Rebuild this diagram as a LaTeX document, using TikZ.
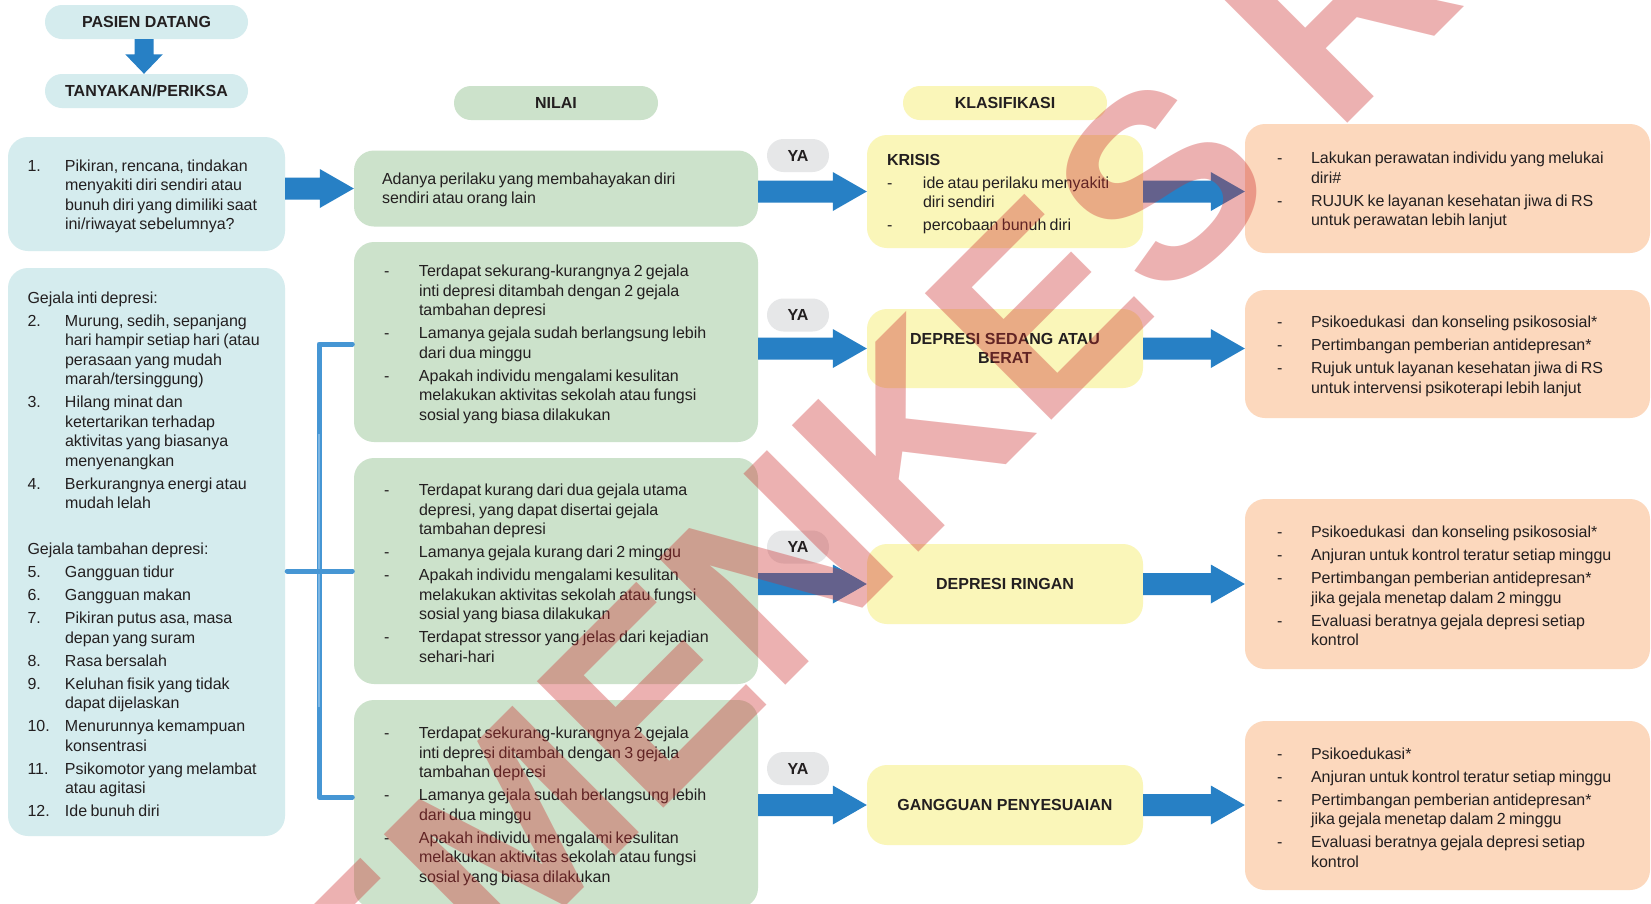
\documentclass[tikz,border=0pt]{standalone}
\usepackage{fontspec}
\setmainfont{Liberation Sans}
\usetikzlibrary{calc}
\definecolor{cyanc}{RGB}{213,236,238}
\definecolor{greenc}{RGB}{204,226,203}
\definecolor{yellowc}{RGB}{250,246,185}
\definecolor{peachc}{RGB}{252,216,189}
\definecolor{grayc}{RGB}{230,231,232}
\definecolor{bluec}{RGB}{39,128,197}
\definecolor{brc}{RGB}{70,150,212}
\definecolor{brl}{RGB}{125,183,228}
\definecolor{textc}{RGB}{35,31,32}
\definecolor{wmc}{RGB}{205,45,45}
\newlength\mw
\newcommand\bodyf{\fontsize{16pt}{19.5pt}\selectfont\setlength\parskip{3.5pt}}
\newcommand\itm[1]{\par\hangindent=\mw\hangafter=1\noindent\makebox[\mw][l]{#1}\ignorespaces}
\newcommand\hd[1]{\par\noindent#1}
\newcommand\harrow[2]{\fill[bluec] let \p1=(#1), \p2=(#2) in
  (\x1,\y2+11pt) -- (\x2-34pt,\y2+11pt) -- (\x2-34pt,\y2+19.5pt) -- (\x2,\y2)
  -- (\x2-34pt,\y2-19.5pt) -- (\x2-34pt,\y2-11pt) -- (\x1,\y2-11pt) -- cycle;}
\begin{document}
\begin{tikzpicture}[x=1pt,y=-1pt,
  box/.style={fill=#1, rounded corners=20pt, inner sep=0pt, draw=none},
  pill/.style={fill=#1, rounded corners=17pt, inner sep=0pt, minimum height=34pt, text=textc, font=\bfseries\fontsize{16pt}{19pt}\selectfont},
  yapill/.style={pill=grayc, minimum width=62pt, minimum height=33pt, rounded corners=16.5pt},
  ktext/.style={text=textc, align=center, font=\bfseries\fontsize{16pt}{19pt}\selectfont},
  txt/.style={anchor=west, inner sep=0pt, text width=#1, align=left, text=textc, yshift=3.5pt},
  brk/.style={draw=brc, line width=5pt, line cap=round, line join=round},
]
\useasboundingbox (0,0) rectangle (1651,903);
\clip (0,0) rectangle (1651,903);
\fill[white] (0,0) rectangle (1651,903);

% headers
\node[pill=cyanc, minimum width=203pt] (pasien) at (146.5,22) {PASIEN DATANG};
\node[pill=cyanc, minimum width=203pt] (tanya) at (146.5,91) {TANYAKAN/PERIKSA};
\node[pill=greenc, minimum width=204pt] (nilai) at (556,103) {NILAI};
\node[pill=yellowc, minimum width=204pt] (klas) at (1005,103) {KLASIFIKASI};

% left column
\node[box=cyanc, minimum width=277pt, minimum height=114pt] (q1) at (146.5,194) {};
\node[txt=245pt] (q1t) at ($(q1.west)+(19.5,0)$) {\bodyf\setlength\mw{37.5pt}%
\itm{1.}Pikiran, rencana, tindakan\newline menyakiti diri sendiri atau\newline bunuh diri yang dimiliki saat\newline ini/riwayat sebelumnya?\par};

\node[box=cyanc, minimum width=277pt, minimum height=568pt] (g) at (146.5,552) {};
\node[txt=245pt] (gt) at ($(g.west)+(19.5,0)$) {\bodyf\setlength\mw{37.5pt}%
\hd{Gejala inti depresi:}%
\itm{2.}Murung, sedih, sepanjang\newline hari hampir setiap hari (atau\newline perasaan yang mudah\newline marah/tersinggung)%
\itm{3.}Hilang minat dan\newline ketertarikan terhadap\newline aktivitas yang biasanya\newline menyenangkan%
\itm{4.}Berkurangnya energi atau\newline mudah lelah%
\par\vspace{23pt}%
\hd{Gejala tambahan depresi:}%
\itm{5.}Gangguan tidur%
\itm{6.}Gangguan makan%
\itm{7.}Pikiran putus asa, masa\newline depan yang suram%
\itm{8.}Rasa bersalah%
\itm{9.}Keluhan fisik yang tidak\newline dapat dijelaskan%
\itm{10.}Menurunnya kemampuan\newline konsentrasi%
\itm{11.}Psikomotor yang melambat\newline atau agitasi%
\itm{12.}Ide bunuh diri\par};

% nilai column
\node[box=greenc, minimum width=404pt, minimum height=76pt] (v1) at (556,188.5) {};
\node[txt=360pt, yshift=-5pt] (v1t) at ($(v1.west)+(28,0)$) {\bodyf Adanya perilaku yang membahayakan diri\newline sendiri atau orang lain\par};

\node[box=greenc, minimum width=404pt, minimum height=200pt] (v2) at (556,342) {};
\node[txt=365pt] (v2t) at ($(v2.west)+(30,0)$) {\bodyf\setlength\mw{35pt}%
\itm{-}Terdapat sekurang-kurangnya 2 gejala\newline inti depresi ditambah dengan 2 gejala\newline tambahan depresi%
\itm{-}Lamanya gejala sudah berlangsung lebih\newline dari dua minggu%
\itm{-}Apakah individu mengalami kesulitan\newline melakukan aktivitas sekolah atau fungsi\newline sosial yang biasa dilakukan\par};

\node[box=greenc, minimum width=404pt, minimum height=226pt] (v3) at (556,571) {};
\node[txt=365pt] (v3t) at ($(v3.west)+(30,0)$) {\bodyf\setlength\mw{35pt}%
\itm{-}Terdapat kurang dari dua gejala utama\newline depresi, yang dapat disertai gejala\newline tambahan depresi%
\itm{-}Lamanya gejala kurang dari 2 minggu%
\itm{-}Apakah individu mengalami kesulitan\newline melakukan aktivitas sekolah atau fungsi\newline sosial yang biasa dilakukan%
\itm{-}Terdapat stressor yang jelas dari kejadian\newline sehari-hari\par};

\node[box=greenc, minimum width=404pt, minimum height=208pt] (v4) at (556,804) {};
\node[txt=365pt] (v4t) at ($(v4.west)+(30,0)$) {\bodyf\setlength\mw{35pt}%
\itm{-}Terdapat sekurang-kurangnya 2 gejala\newline inti depresi ditambah dengan 3 gejala\newline tambahan depresi%
\itm{-}Lamanya gejala sudah berlangsung lebih\newline dari dua minggu%
\itm{-}Apakah individu mengalami kesulitan\newline melakukan aktivitas sekolah atau fungsi\newline sosial yang biasa dilakukan\par};

% YA labels
\node[yapill] (ya1) at (798,155.5) {YA};
\node[yapill] (ya2) at (798,315) {YA};
\node[yapill] (ya3) at (798,547) {YA};
\node[yapill] (ya4) at (798,768.5) {YA};

% klasifikasi column
\node[box=yellowc, minimum width=276pt, minimum height=113pt] (k1) at (1005,191.5) {};
\node[txt=255pt] (k1t) at ($(k1.west)+(20,0)$) {\bodyf\setlength\mw{36pt}%
\hd{\textbf{KRISIS}}%
\itm{-}ide atau perilaku menyakiti\newline diri sendiri%
\itm{-}percobaan bunuh diri\par};
\node[box=yellowc, ktext, minimum width=276pt, minimum height=79pt] (k2) at (1005,348.5) {DEPRESI SEDANG ATAU\\BERAT};
\node[box=yellowc, ktext, minimum width=276pt, minimum height=80pt] (k3) at (1005,584) {DEPRESI RINGAN};
\node[box=yellowc, ktext, minimum width=276pt, minimum height=80pt] (k4) at (1005,805) {GANGGUAN PENYESUAIAN};

% action column
\node[box=peachc, minimum width=405pt, minimum height=129pt] (p1) at (1447.5,188.5) {};
\node[txt=370pt] (p1t) at ($(p1.west)+(32,0)$) {\bodyf\setlength\mw{34pt}%
\itm{-}Lakukan perawatan individu yang melukai\newline diri\#%
\itm{-}RUJUK ke layanan kesehatan jiwa di RS\newline untuk perawatan lebih lanjut\par};

\node[box=peachc, minimum width=405pt, minimum height=128pt] (p2) at (1447.5,354) {};
\node[txt=370pt] (p2t) at ($(p2.west)+(32,0)$) {\bodyf\setlength\mw{34pt}%
\itm{-}Psikoedukasi\ \ dan konseling psikososial*%
\itm{-}Pertimbangan pemberian antidepresan*%
\itm{-}Rujuk untuk layanan kesehatan jiwa di RS\newline untuk intervensi psikoterapi lebih lanjut\par};

\node[box=peachc, minimum width=405pt, minimum height=170pt] (p3) at (1447.5,584) {};
\node[txt=370pt] (p3t) at ($(p3.west)+(32,0)$) {\bodyf\setlength\mw{34pt}%
\itm{-}Psikoedukasi\ \ dan konseling psikososial*%
\itm{-}Anjuran untuk kontrol teratur setiap minggu%
\itm{-}Pertimbangan pemberian antidepresan*\newline jika gejala menetap dalam 2 minggu%
\itm{-}Evaluasi beratnya gejala depresi setiap\newline kontrol\par};

\node[box=peachc, minimum width=405pt, minimum height=169pt] (p4) at (1447.5,805.5) {};
\node[txt=370pt] (p4t) at ($(p4.west)+(32,0)$) {\bodyf\setlength\mw{34pt}%
\itm{-}Psikoedukasi*%
\itm{-}Anjuran untuk kontrol teratur setiap minggu%
\itm{-}Pertimbangan pemberian antidepresan*\newline jika gejala menetap dalam 2 minggu%
\itm{-}Evaluasi beratnya gejala depresi setiap\newline kontrol\par};

% down arrow
\fill[bluec] let \p1=(pasien.south), \p2=(tanya.north) in
  (\x1-12pt,\y1) -- (\x1+7pt,\y1) -- (\x1+7pt,\y2+19.5pt) -- (\x1+16.25pt,\y2+19.5pt)
  -- (\x1-2.5pt,\y2) -- (\x1-21.25pt,\y2+19.5pt) -- (\x1-12pt,\y2+19.5pt) -- cycle;

% horizontal arrows
\harrow{q1.east}{v1.west}
\harrow{v1.east}{k1.west}
\harrow{v2.east}{k2.west}
\harrow{v3.east}{k3.west}
\harrow{v4.east}{k4.west}
\harrow{k1.east}{p1.west |- k1.east}
\harrow{k2.east}{p2.west |- k2.east}
\harrow{k3.east}{p3.west |- k3.east}
\harrow{k4.east}{p4.west |- k4.east}

% bracket
\coordinate (bx) at (319,0);
\coordinate (b2) at ($(v2.west)+(0,2)$);
\coordinate (b4) at ($(v4.west)+(0,-7)$);
\draw[brk, shorten <=1.5pt, shorten >=1.5pt] (b2) -- (b2 -| bx) -- (b4 -| bx) -- (b4);
\draw[brk, draw=brl, line width=2pt, line cap=butt] ($(b2 -| bx)+(0,90)$) -- ($(b4 -| bx)+(0,-90)$);
\draw[brk, shorten <=2pt, shorten >=1.5pt] (g.east |- v3.west) -- (v3.west);

% watermark
\node[rotate=45, text=wmc, text opacity=0.37, inner sep=0pt, font=\bfseries\fontsize{260pt}{260pt}\selectfont] (wm) at (818,527) {KEMENKES RI};
\end{tikzpicture}
\end{document}
